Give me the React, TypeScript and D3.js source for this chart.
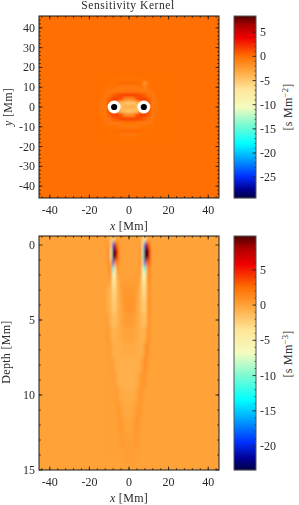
import React from "react";
import * as d3 from "d3";

const cmapStops = [0, 0.05, 0.12, 0.22, 0.3, 0.4, 0.5, 0.6, 0.7, 0.78, 0.88, 0.95, 1];
const cmapColors = ["#000046", "#000096", "#0032ff", "#00a8ff", "#00ffff", "#78fad2", "#f5fcc0", "#ffe496", "#ffa53c", "#ff6e00", "#f00000", "#aa0000", "#500000"];

const topXs = [-16, -14, -12, -10, -8, -6, -4, -2, 0, 2, 4, 6, 8, 10, 12, 14, 16];
const topYs = [16, 14, 12, 10, 8, 6, 4, 2, 0, -2, -4, -6, -8, -10, -12, -14, -16];
const topValues = [
  [0, 0, 0, 0, 0, 0, -.1, -.1, -.1, -.1, -.1, 0, 0, 0, 0, 0, 0],
  [0, 0, 0, 0, -.1, -.2, -.2, -.2, -.2, -.2, -.2, -.2, -.1, 0, 0, 0, 0],
  [0, 0, 0, -.1, -.2, .1, .2, .2, .2, .2, .1, .1, -2.2, -.2, 0, 0, 0],
  [0, 0, -.1, -.3, -.2, -.3, -.5, -.7, -.7, -.7, -.5, -.3, -1, -.3, -.1, 0, 0],
  [0, 0, -.3, -.5, -.6, -.7, -.5, -.3, -.3, -.3, -.5, -.7, -.6, -.5, -.3, 0, 0],
  [0, -.1, -.4, -.3, .5, 1, 1.4, 1.6, 1.6, 1.6, 1.4, 1, .5, -.3, -.4, -.1, 0],
  [0, -.2, -.5, .5, 1.5, 1.6, 1, -1.2, -1.6, -1.2, 1, 1.6, 1.5, .5, -.5, -.2, 0],
  [0, -.3, -.6, 1, 1.5, -1.5, -4, -4.5, -5, -4.5, -4, -1.5, 1.5, 1, -.6, -.3, 0],
  [0, -.3, -.6, 1, 1, -3, -4.5, -3.5, -3.5, -3.5, -4.5, -3, 1, 1, -.6, -.3, 0],
  [0, -.3, -.6, 1, 1.5, -1.5, -4, -4.5, -5, -4.5, -4, -1.5, 1.5, 1, -.6, -.3, 0],
  [0, -.2, -.5, .5, 1.5, 1.6, .8, -1.4, -1.8, -1.4, .8, 1.6, 1.5, .5, -.5, -.2, 0],
  [0, -.1, -.4, -.3, .5, 1, 1.4, 1.5, 1.5, 1.5, 1.4, 1, .5, -.3, -.4, -.1, 0],
  [0, 0, -.3, -.5, -.6, -.6, -.4, -.2, -.2, -.2, -.4, -.6, -.6, -.5, -.3, 0, 0],
  [0, 0, -.1, -.2, -.2, -.3, -.5, -.6, -.6, -.6, -.5, -.3, -.2, -.2, -.1, 0, 0],
  [0, 0, 0, -.1, -.1, .1, .2, .2, .2, .2, .2, .1, -.1, -.1, 0, 0, 0],
  [0, 0, 0, 0, -.1, -.2, -.3, -.4, -.4, -.4, -.3, -.2, -.1, 0, 0, 0, 0],
  [0, 0, 0, 0, 0, 0, -.1, -.1, -.1, -.1, -.1, 0, 0, 0, 0, 0, 0],
];
const sensorXs = [-7.5, 7.5];
const sensorYs = [0, 0];

const depthXs = [-14, -13, -12, -11, -10, -9, -8, -7, -6, -5, -4, -3, -2, -1, 0, 1, 2, 3, 4, 5, 6, 7, 8, 9, 10, 11, 12, 13, 14];
const depthLevels = [-0.4, 0, 0.4, 0.8, 1.2, 1.6, 2, 2.5, 3, 3.5, 4, 5, 6, 7, 8, 9, 10, 11, 12, 13, 14];
const depthValues = [
  [0, 0, 0, 0, -.5, -2, -3, -1.5, .2, 0, 0, 0, 0, 0, 0, 0, 0, 0, 0, 0, 0, -3, -5, -1, 0, 0, 0, 0, 0],
  [0, 0, 0, 0, 1, -3, -20, 8, 2, .5, 0, 0, 0, 0, 0, 0, 0, 0, 0, 0, .5, -4, -20, 8, 3, .5, 0, 0, 0],
  [0, 0, 0, .3, 2, -7, -45, 24, 6, 1, 0, 0, 0, 0, 0, 0, 0, 0, 0, 0, 1, -8, -45, 24, 8, 1, 0, 0, 0],
  [0, 0, 0, .3, 2, -7, -40, 20, 5, 1, 0, 0, 0, 0, 0, 0, 0, 0, 0, 0, 1, -8, -40, 20, 7, 1, 0, 0, 0],
  [0, 0, 0, 0, 1.5, -1, -20, 0, 2, .5, 0, 0, 0, 0, 0, 0, 0, 0, 0, 0, 1, -4, -20, 1, 4, .5, 0, 0, 0],
  [0, 0, 0, 0, 1, .5, -12, -5, 1, .3, 0, 0, 0, 0, 0, 0, 0, 0, 0, 0, .5, -6, -12, -1, 2.5, .3, 0, 0, 0],
  [0, 0, 0, 0, .5, .5, -7, -5, -.5, .2, 0, 0, 0, 0, 0, 0, 0, 0, 0, .2, .3, -6, -7, -.5, 1.5, .3, 0, 0, 0],
  [0, 0, 0, -.2, .3, -1, -4, -4, -1, -.3, .2, .2, .2, .2, .2, .2, .2, .2, .2, 0, -1, -4, -4, -.8, 1.2, .3, 0, 0, 0],
  [0, 0, 0, -.4, -.8, -1.3, -3, -3, -1.2, -.6, 0, .4, .4, .4, .4, .4, .4, .4, 0, -.5, -1.2, -3, -3, -1, 1.2, .3, 0, 0, 0],
  [0, 0, 0, -.4, -.8, -1.2, -2.6, -2.6, -1.2, -.6, -.1, .4, .5, .5, .5, .5, .5, .4, -.1, -.6, -1.2, -2.6, -2.6, -1, 1.2, .3, 0, 0, 0],
  [0, 0, 0, -.4, -.8, -1.2, -2.2, -2.2, -1.2, -.6, -.2, .3, .5, .6, .6, .6, .5, .3, -.2, -.6, -1.2, -2.2, -2.2, -.8, 1.2, .2, 0, 0, 0],
  [0, 0, 0, .2, -.4, -.9, -1.4, -1.4, -1, -.6, -.2, 0, .2, .3, .3, .3, .2, 0, -.2, -.6, -1, -1.4, -1.4, -.7, 1, .2, 0, 0, 0],
  [0, 0, 0, .3, .2, -.5, -.9, -.9, -.8, -.6, -.4, -.2, -.1, -.1, -.1, -.1, -.1, -.2, -.4, -.6, -.8, -.9, -.7, .2, .8, .2, 0, 0, 0],
  [0, 0, 0, .1, .2, .1, -.6, -.7, -.7, -.7, -.6, -.5, -.4, -.4, -.4, -.4, -.4, -.5, -.6, -.7, -.7, -.6, .4, .8, .5, 0, 0, 0, 0],
  [0, 0, 0, 0, .1, .2, .1, -.5, -.7, -.7, -.7, -.7, -.7, -.8, -.8, -.8, -.7, -.7, -.7, -.6, -.3, .3, .8, .6, .1, 0, 0, 0, 0],
  [0, 0, 0, 0, 0, 0, .2, .2, -.4, -.7, -.8, -.8, -.8, -.8, -.8, -.8, -.8, -.7, -.5, -.1, .3, .6, .5, .1, 0, 0, 0, 0, 0],
  [0, 0, 0, 0, 0, 0, 0, .2, .3, -.1, -.4, -.5, -.6, -.6, -.6, -.6, -.5, -.4, -.1, .3, .5, .3, 0, 0, 0, 0, 0, 0, 0],
  [0, 0, 0, 0, 0, 0, 0, .1, .3, .4, .1, -.2, -.3, -.3, -.3, -.3, -.2, .1, .3, .5, .3, .1, 0, 0, 0, 0, 0, 0, 0],
  [0, 0, 0, 0, 0, 0, 0, 0, .2, .4, .4, .2, 0, -.1, -.1, -.1, .1, .3, .6, .4, .2, 0, 0, 0, 0, 0, 0, 0, 0],
  [0, 0, 0, 0, 0, 0, 0, 0, 0, .2, .3, .3, .2, .1, .1, .1, .2, .4, .3, .2, 0, 0, 0, 0, 0, 0, 0, 0, 0],
  [0, 0, 0, 0, 0, 0, 0, 0, 0, 0, .1, .1, .2, .2, .2, .2, .2, .1, .1, 0, 0, 0, 0, 0, 0, 0, 0, 0, 0],
];

const xTicks = [-40, -20, 0, 20, 40];
const yTicksTop = [-40, -30, -20, -10, 0, 10, 20, 30, 40];
const depthTicks = [0, 5, 10, 15];
const cbTopTicks = [5, 0, -5, -10, -15, -20, -25];
const cbBottomTicks = [5, 0, -5, -10, -15, -20];
const cbTopDomain = [-29.3, 8.35];
const cbBottomDomain = [-23.4, 9.8];

const INK = "#2b2b2b";
const FONT = "'Liberation Serif', serif";

const cmap = d3.scaleLinear<string>().domain(cmapStops).range(cmapColors).interpolate(d3.interpolateRgb).clamp(true);

function range(a: number, b: number, s: number) {
  const out: number[] = [];
  for (let v = a; v <= b + 1e-6; v += s) out.push(v);
  return out;
}

function edges(c: number[]) {
  const out = [c[0] - (c[1] - c[0]) / 2];
  for (let i = 0; i < c.length - 1; i++) out.push((c[i] + c[i + 1]) / 2);
  out.push(c[c.length - 1] + (c[c.length - 1] - c[c.length - 2]) / 2);
  return out;
}

function Heat({ id, xs, ys, values, x, y, color }: any) {
  const xe = edges(xs), ye = edges(ys);
  const [x0, x1] = x.range();
  const yr = y.range();
  return (
    <g clipPath={`url(#clip-${id})`}>
      <rect x={x0} y={Math.min(...yr)} width={x1 - x0} height={Math.abs(yr[0] - yr[1])} fill={color(0)} />
      <g filter={`url(#soft-${id})`}>
        {values.map((row: number[], j: number) =>
          row.map((v, i) => {
            const a = x(xe[i]), b = x(xe[i + 1]), c = y(ye[j]), d = y(ye[j + 1]);
            return <rect key={`${i}-${j}`} x={a} y={Math.min(c, d)} width={b - a + 0.3} height={Math.abs(d - c) + 0.3} fill={color(v)} />;
          })
        )}
      </g>
    </g>
  );
}

function Frame({ x0, x1, y0, y1, xScale, yScale, xMajor, xMinor, yMajor, yMinor }: any) {
  const t = (k: string, a: number, b: number, c: number, d: number, w = 0.8) => (
    <line key={k} x1={a} x2={c} y1={b} y2={d} stroke="#1a1a1a" strokeWidth={w} />
  );
  const out: any[] = [];
  xMajor.forEach((v: number) => {
    out.push(t(`a${v}`, xScale(v), y1, xScale(v), y1 - 3.5), t(`b${v}`, xScale(v), y0, xScale(v), y0 + 3.5));
  });
  xMinor.forEach((v: number) => {
    out.push(t(`c${v}`, xScale(v), y1, xScale(v), y1 - 1.8), t(`d${v}`, xScale(v), y0, xScale(v), y0 + 1.8));
  });
  yMajor.forEach((v: number) => {
    out.push(t(`e${v}`, x0, yScale(v), x0 + 3.5, yScale(v)), t(`f${v}`, x1, yScale(v), x1 - 3.5, yScale(v)));
  });
  yMinor.forEach((v: number) => {
    out.push(t(`g${v}`, x0, yScale(v), x0 + 1.8, yScale(v)), t(`h${v}`, x1, yScale(v), x1 - 1.8, yScale(v)));
  });
  return (
    <g>
      {out}
      <rect x={x0} y={y0} width={x1 - x0} height={y1 - y0} fill="none" stroke="#1a1a1a" strokeWidth={1} />
    </g>
  );
}

function ColorBar({ id, domain, ticks, y0, y1, sup }: any) {
  const x0 = 234, x1 = 256;
  const scale = d3.scaleLinear().domain(domain).range([y1, y0]);
  const color = (v: number) => cmap((v - domain[0]) / (domain[1] - domain[0]));
  const steps = d3.range(y0, y1, 1);
  const minor = range(Math.ceil(domain[0]), Math.floor(domain[1]), 1);
  return (
    <g>
      {steps.map((p) => (
        <rect key={p} x={x0} y={p} width={x1 - x0} height={1.2} fill={color(scale.invert(p + 0.5))} />
      ))}
      {minor.map((v: number) => (
        <line key={`m${v}`} x1={x1} x2={x1 - 1.5} y1={scale(v)} y2={scale(v)} stroke="#222" strokeWidth={0.7} />
      ))}
      {ticks.map((v: number) => (
        <g key={v}>
          <line x1={x1} x2={x1 - 3.5} y1={scale(v)} y2={scale(v)} stroke="#222" strokeWidth={0.8} />
          <text x={260} y={scale(v) + 4} fontSize={12} fill={INK} fontFamily={FONT} filter="url(#txt)">{v}</text>
        </g>
      ))}
      <rect x={x0} y={y0} width={x1 - x0} height={y1 - y0} fill="none" stroke="#555" strokeWidth={1} />
      <text
        transform={`translate(292,${id === "top" ? 107 : 354}) rotate(-90)`}
        textAnchor="middle"
        fontSize={12}
        fill={INK}
        fontFamily={FONT}
        letterSpacing={0.3}
      >
        [s Mm<tspan dy={-4} fontSize={8.5}>{sup}</tspan><tspan dy={4}>]</tspan>
      </text>
    </g>
  );
}

export default function App() {
  const L = 39, R = 219;
  const x = d3.scaleLinear().domain([-45.45, 45.45]).range([L, R]);
  const T1 = 16, B1 = 198, T2 = 236, B2 = 470;
  const yTop = d3.scaleLinear().domain([-46, 46]).range([B1, T1]);
  const yDepth = d3.scaleLinear().domain([-0.6, 15]).range([T2, B2]);
  const colorTop = (v: number) => cmap((v - cbTopDomain[0]) / (cbTopDomain[1] - cbTopDomain[0]));
  const colorBottom = (v: number) => cmap((v - cbBottomDomain[0]) / (cbBottomDomain[1] - cbBottomDomain[0]));
  const textProps = { fill: INK, fontFamily: FONT, fontSize: 12 };
  const xMinor = range(-44, 44, 4);
  return (
    <svg width={299} height={505} style={{ position: "absolute", left: 0, top: 0 }}>
      <defs>
        <clipPath id="clip-top"><rect x={L} y={T1} width={R - L} height={B1 - T1} /></clipPath>
        <clipPath id="clip-bottom"><rect x={L} y={T2} width={R - L} height={B2 - T2} /></clipPath>
        <filter id="soft-top" x="-10%" y="-10%" width="120%" height="120%"><feGaussianBlur stdDeviation={1.2} /></filter>
        <filter id="soft-bottom" x="-10%" y="-10%" width="120%" height="120%"><feGaussianBlur stdDeviation="0.9 2.2" /></filter>
        <filter id="txt" x="-20%" y="-20%" width="140%" height="140%"><feGaussianBlur stdDeviation={0.22} /></filter>
      </defs>

      <Heat id="top" xs={topXs} ys={topYs} values={topValues} x={x} y={yTop} color={colorTop} />
      {sensorXs.map((v, i) => (
        <g key={v}>
          <circle cx={x(v)} cy={yTop(sensorYs[i])} r={6.5} fill="#fff" />
          <circle cx={x(v)} cy={yTop(sensorYs[i])} r={3.1} fill="#000" />
        </g>
      ))}
      <Frame x0={L} x1={R} y0={T1} y1={B1} xScale={x} yScale={yTop} xMajor={xTicks} xMinor={xMinor} yMajor={yTicksTop} yMinor={range(-44, 44, 2)} />

      <Heat id="bottom" xs={depthXs} ys={depthLevels} values={depthValues} x={x} y={yDepth} color={colorBottom} />
      <Frame x0={L} x1={R} y0={T2} y1={B2} xScale={x} yScale={yDepth} xMajor={xTicks} xMinor={xMinor} yMajor={depthTicks} yMinor={range(1, 14, 1)} />

      <ColorBar id="top" domain={cbTopDomain} ticks={cbTopTicks} y0={T1} y1={B1} sup="−2" />
      <ColorBar id="bottom" domain={cbBottomDomain} ticks={cbBottomTicks} y0={T2} y1={B2} sup="−3" />

      <g {...textProps} filter="url(#txt)">
        <text x={128} y={9} textAnchor="middle" fontSize={11.5} letterSpacing={0.55}>Sensitivity Kernel</text>
        {xTicks.map((v) => (
          <text key={`x1${v}`} x={x(v)} y={214} textAnchor="middle">{v}</text>
        ))}
        {xTicks.map((v) => (
          <text key={`x2${v}`} x={x(v)} y={486} textAnchor="middle">{v}</text>
        ))}
        {yTicksTop.map((v) => (
          <text key={`y1${v}`} x={35} y={yTop(v) + 4} textAnchor="end">{v}</text>
        ))}
        {depthTicks.map((v) => (
          <text key={`y2${v}`} x={35} y={yDepth(v) + 4} textAnchor="end">{v}</text>
        ))}
        <text x={129} y={230} textAnchor="middle" letterSpacing={0.3}><tspan fontStyle="italic">x</tspan> [Mm]</text>
        <text x={129} y={502} textAnchor="middle" letterSpacing={0.3}><tspan fontStyle="italic">x</tspan> [Mm]</text>
        <text transform="translate(12,107) rotate(-90)" textAnchor="middle" letterSpacing={0.3}><tspan fontStyle="italic">y</tspan> [Mm]</text>
        <text transform="translate(10,352) rotate(-90)" textAnchor="middle" letterSpacing={0.3}>Depth [Mm]</text>
      </g>
    </svg>
  );
}
